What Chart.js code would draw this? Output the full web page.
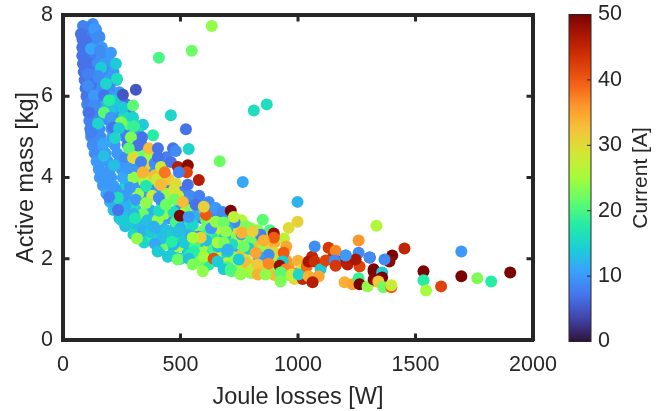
<!DOCTYPE html>
<html>
<head>
<meta charset="utf-8">
<script src="https://cdn.jsdelivr.net/npm/chart.js@4"></script>
<style>
    body { margin: 0; background: #fff; }
    canvas { position: absolute; left: 0; top: 0; }
</style>
</head>
<body>
<canvas id="scatterChart" width="669" height="411"></canvas>
<canvas id="colorbarChart" width="669" height="411"></canvas>
<script>
// values, one group per line, same order in all three lists
const jouleLosses = [
    127,110,140,90,155,83,105,130,
    82,110,140,165,82,105,135,165,190,
    85,115,145,175,200,88,120,150,185,215,
    92,125,155,195,228,96,130,165,200,240,
    100,135,170,210,250,
    103,140,180,225,270,
    108,145,190,235,280,
    112,150,195,245,295,
    116,155,205,255,310,
    120,160,210,265,325,
    126,170,220,275,335,
    135,180,230,285,350,
    143,190,240,300,360,420,
    153,200,250,305,365,420,
    157,205,255,315,375,440,
    170,215,265,325,390,450,
    185,230,280,340,400,470,
    200,245,295,355,420,490,550,
    215,260,310,370,430,500,560,620,
    240,285,335,395,450,520,590,660,
    265,310,360,420,480,550,620,690,760,
    300,350,400,460,520,590,660,730,810,
    345,400,450,520,590,660,740,820,
    410,470,530,600,670,740,810,880,
    500,560,630,700,770,850,920,
    620,690,760,830,910,720,800,
    300,360,250,320,380,440,300,340,430,470,520,570,640,700,760,800,
    480,540,600,670,740,450,510,640,720,380,430,490,560,620,690,760,
    650,580,700,760,820,860,880,830,900,960,1000,985,355,390,410,345,
    540,590,650,610,560,690,730,780,640,700,830,880,760,800,850,900,940,690,610,560,530,
    720,790,840,900,950,640,590,540,650,720,780,830,870,700,750,790,860,900,950,1000,1020,960,1060,1100,1150,1190,1020,
    330,370,350,390,440,300,400,450,480,510,540,580,450,490,620,650,680,720,340,320,280,260,300,240,215,200,
    215,240,265,250,280,300,320,340,360,375,405,420,440,465,500,515,540,470,575,610,630,660,225,260,195,285,310,180,230,265,
    132,85,153,76,98,119,157,204,225,162,98,149,106,230,183,106,132,310,255,174,
    191,196,132,255,298,174,298,111,204,247,302,149,213,238,383,336,289,221,119,174,
    319,280,366,404,468,480,174,298,332,404,417,459,276,217,153,340,433,489,531,527,
    408,459,523,548,633,535,416,812,867,667,765,998,493,
    497,608,714,578,531,472,353,408,353,476,510,565,234,234,196,306,403,408,552,650,
    493,387,586,552,391,463,557,658,315,403,446,488,535,599,552,595,641,658,684,715,
    416,599,438,535,684,701,
    727,850,960,998,1334,1258,1071,939,1130,1160,1203,1258,1305,1305,897,897,841,854,875,833,
    820,761,807,769,693,684,701,714,778,748,756,807,829,829,862,875,935,922,948,926,
    926,973,1003,1037,1045,1071,1096,1045,1088,1062,1118,1156,1160,1211,1262,1245,1322,1334,1198,1232,
    1258,1262,1296,1453,1401,1389,1368,1322,1358,1358,1322,1342,1203,1363,1397,1397,
    1534,1534,1545,1609,1695,1695,1763,1822,1903
];
const activeMass = [
    7.78,7.7,7.65,7.6,7.45,7.4,7.45,7.4,
    7.2,7.2,7.2,7.2,7.0,7.0,7.0,7.0,7.0,
    6.8,6.8,6.8,6.8,6.85,6.6,6.6,6.6,6.6,6.6,
    6.4,6.4,6.4,6.4,6.4,6.2,6.2,6.2,6.2,6.1,
    6.0,6.0,6.0,6.0,5.95,
    5.8,5.8,5.8,5.8,5.8,
    5.6,5.6,5.6,5.6,5.6,
    5.4,5.4,5.4,5.4,5.4,
    5.2,5.2,5.2,5.2,5.2,
    5.0,5.0,5.0,5.0,5.0,
    4.8,4.8,4.8,4.8,4.8,
    4.6,4.6,4.6,4.6,4.6,
    4.4,4.4,4.4,4.4,4.4,4.4,
    4.2,4.2,4.2,4.2,4.2,4.2,
    4.0,4.0,4.0,4.0,4.0,4.0,
    3.8,3.8,3.8,3.8,3.8,3.8,
    3.6,3.6,3.6,3.6,3.6,3.6,
    3.4,3.4,3.4,3.4,3.4,3.4,3.4,
    3.2,3.2,3.2,3.2,3.2,3.2,3.2,3.2,
    3.0,3.0,3.0,3.0,3.0,3.0,3.0,3.0,
    2.8,2.8,2.8,2.8,2.8,2.8,2.8,2.8,2.8,
    2.6,2.6,2.6,2.6,2.6,2.6,2.6,2.6,2.6,
    2.4,2.4,2.4,2.4,2.4,2.4,2.4,2.4,
    2.2,2.2,2.2,2.2,2.2,2.2,2.2,2.2,
    2.0,2.0,2.0,2.0,2.0,2.0,2.0,
    1.85,1.85,1.85,1.85,1.8,1.7,1.65,
    4.0,3.9,3.7,3.6,3.55,3.6,3.3,3.1,3.1,3.15,3.15,3.1,3.05,2.95,2.95,2.75,
    2.9,2.9,2.7,2.7,2.7,2.5,2.5,2.5,2.5,2.55,2.35,2.3,2.3,2.35,2.45,2.35,
    2.1,1.95,1.9,2.1,2.3,2.35,2.25,1.75,1.6,1.8,1.65,1.5,4.0,4.05,3.85,3.9,
    3.2,3.3,3.1,2.95,3.05,3.0,2.9,2.8,2.85,2.75,2.7,2.7,2.6,2.5,2.55,2.4,2.5,2.55,2.6,2.65,2.75,
    2.35,2.25,2.2,2.15,2.3,2.25,2.15,2.1,1.95,2.05,1.95,1.95,1.95,1.8,1.75,1.8,1.75,1.85,1.95,1.95,1.75,1.6,2.05,1.85,2.05,1.95,1.5,
    4.55,4.5,4.3,4.35,4.5,4.65,3.95,3.95,3.85,3.65,3.55,3.55,3.45,3.55,3.4,3.25,3.15,3.05,5.3,5.1,5.3,5.5,5.1,5.75,5.9,5.65,
    3.35,3.15,3.3,2.95,2.9,3.1,2.85,2.7,2.95,2.65,2.75,2.5,2.7,2.6,2.75,2.4,2.6,2.35,2.55,2.45,2.75,2.3,3.7,3.55,3.85,3.75,3.45,4.05,4.3,4.5,
    7.66,7.73,7.48,7.53,7.36,7.17,7.12,7.07,6.8,6.7,6.75,6.5,6.55,6.43,6.31,6.26,6.02,6.16,6.04,6.02,
    5.82,5.9,5.77,5.72,5.77,5.6,5.48,5.6,5.48,5.36,5.26,5.33,5.23,5.21,5.04,4.99,4.99,4.97,5.11,4.84,
    4.79,4.72,4.72,4.72,4.72,4.65,4.53,4.48,4.38,4.5,4.26,4.38,4.23,4.3,4.23,4.13,4.13,4.26,4.3,4.13,
    6.95,5.53,5.19,7.12,7.73,4.7,3.82,5.65,5.8,4.4,3.89,3.4,4.13,
    3.06,3.08,3.18,3.94,3.82,3.69,3.79,3.5,3.37,3.45,3.4,3.33,3.2,3.5,3.52,3.0,2.96,3.18,2.84,2.91,
    2.67,2.79,2.52,2.52,2.37,2.42,2.18,2.4,2.5,2.18,2.05,1.98,2.0,2.05,1.86,1.69,2.0,1.93,1.74,1.7,
    3.82,3.28,3.33,3.03,2.89,2.18,
    3.03,2.96,2.76,2.91,2.81,2.45,2.3,2.15,2.27,2.2,2.08,2.15,2.03,2.03,2.62,2.52,2.59,2.45,2.1,2.05,
    2.15,2.64,2.67,2.3,2.67,2.4,2.23,1.74,1.91,1.98,1.61,1.74,1.86,1.61,1.61,1.88,1.93,1.83,1.74,1.66,
    1.44,1.61,1.61,1.81,1.93,1.93,1.74,1.57,1.57,1.42,1.96,1.96,1.83,1.86,1.81,1.98,1.74,1.44,1.42,1.37,
    1.52,1.37,1.32,2.25,2.08,1.93,1.98,1.69,1.66,1.54,1.49,1.44,2.08,1.3,1.3,1.35,
    1.69,1.47,1.22,1.32,2.18,1.57,1.52,1.44,1.66
];
const currentA = [
    9,8,9,7,10,7,8,9,
    7,7,9,10,7,7,8,9,9,
    7,7,9,10,10,7,7,8,9,10,
    7,7,9,10,12,7,7,9,9,10,
    7,8,9,10,7,
    8,8,10,9,7,
    8,8,9,10,8,
    8,9,9,7,9,
    8,9,10,7,7,
    9,9,10,8,7,
    9,10,10,7,7,
    9,10,10,8,9,
    10,10,10,9,8,7,
    10,10,10,10,10,9,
    10,10,11,10,10,8,
    10,11,12,10,9,7,
    11,12,12,10,10,7,
    12,13,12,11,10,8,7,
    13,13,13,12,10,9,7,7,
    13,14,13,12,10,10,8,7,
    13,14,14,12,11,10,9,7,8,
    15,15,13,12,11,10,10,9,8,
    15,14,13,12,13,11,10,9,
    14,14,13,14,12,11,15,10,
    16,15,14,15,16,20,30,
    18,19,22,24,33,20,24,
    24,22,15,24,28,24,16,22,24,16,27,30,24,22,26,24,
    20,16,22,27,30,20,16,18,24,18,22,25,20,27,24,27,
    27,22,28,33,33,34,31,30,33,36,38,30,30,33,29,26,
    23,10,9,22,12,25,9,23,27,12,24,20,10,22,30,34,27,14,20,25,18,
    16,14,24,30,35,20,24,18,22,24,27,33,12,20,25,27,33,24,36,34,27,24,45,42,44,47,45,
    22,25,30,9,8,24,28,32,30,8,9,8,24,28,9,10,9,10,14,16,20,16,10,12,14,14,
    12,13,12,14,14,12,13,12,13,14,12,13,13,14,12,14,12,12,10,13,10,13,10,10,10,10,10,10,10,9,
    10,8,9,7,7,11,9,10,14,14,7,9,8,16,15,9,10,5,5,7,
    13,18,9,14,21,21,15,7,10,23,19,15,7,14,18,7,23,15,8,11,
    7,21,33,7,7,9,13,30,8,7,28,7,10,13,10,34,38,46,49,42,
    20,15,7,22,24,15,33,16,16,22,11,12,8,
    50,40,50,46,7,29,17,9,24,22,33,7,7,16,8,17,24,16,15,24,
    13,12,31,25,11,18,18,25,24,14,14,22,13,25,23,24,41,14,14,21,
    33,31,22,10,22,14,
    27,21,30,31,26,36,9,40,43,37,9,9,50,9,48,40,8,34,9,10,
    35,34,31,22,24,23,12,20,33,14,24,26,32,34,24,37,14,48,37,21,
    23,28,15,39,47,44,14,34,35,46,42,9,43,46,42,47,50,34,34,35,
    19,50,24,45,50,49,9,50,14,50,49,32,10,22,40,28,
    50,18,25,42,10,50,23,18,50
];
const lossTicks = [0, 500, 1000, 1500, 2000];
const massTicks = [0, 2, 4, 6, 8];
const currentTicks = [0, 10, 20, 30, 40, 50];

// turbo colormap
const turboColors = ['#30123b', '#4145ab', '#4675ed', '#39a2fc', '#1bcfd4', '#24eca6', '#61fc6c', '#a4fc3b',
    '#d1e834', '#f3c63a', '#fe9b2d', '#f36315', '#d93806', '#b11901', '#7a0403'];

const darkText = '#262626';
const fontName = '"Liberation Sans", Arial, sans-serif';

function hexToRgb(hex) {
    return [1, 3, 5].map(i => parseInt(hex.substr(i, 2), 16));
}

function turbo(value) {
    const t = Math.max(0, Math.min(1, value / 50)) * (turboColors.length - 1);
    const i = Math.min(Math.floor(t), turboColors.length - 2);
    const a = hexToRgb(turboColors[i]);
    const b = hexToRgb(turboColors[i + 1]);
    const rgb = a.map((v, k) => Math.round(v + (b[k] - v) * (t - i)));
    return `rgb(${rgb[0]}, ${rgb[1]}, ${rgb[2]})`;
}

function boxAxis(position, min, max, ticks, extra) {
    return Object.assign({
        type: 'linear',
        position: position,
        min: min,
        max: max,
        afterBuildTicks: axis => { axis.ticks = ticks.map(v => ({ value: v })); },
        border: { display: true, color: darkText, width: 4 },
        grid: { drawOnChartArea: false, drawTicks: false },
        ticks: { display: false }
    }, extra);
}

// the layout pushes the plot in for labels that stick out past the ends of an axis, we don't want that
function fixAxisSize(axis, size) {
    if (axis.isHorizontal()) {
        axis.height = size;
    } else {
        axis.width = size;
    }
    axis.paddingTop = 0;
    axis.paddingBottom = 0;
    axis.paddingLeft = 0;
    axis.paddingRight = 0;
}

// inward tick marks on all four sides of the box
const insideTicks = {
    id: 'insideTicks',
    afterDraw(chart) {
        const { ctx, chartArea, scales } = chart;
        ctx.save();
        ctx.strokeStyle = darkText;
        ctx.lineWidth = 3;
        ctx.beginPath();
        lossTicks.forEach(v => {
            const px = scales.x.getPixelForValue(v);
            ctx.moveTo(px, chartArea.bottom);
            ctx.lineTo(px, chartArea.bottom - 6.5);
            ctx.moveTo(px, chartArea.top);
            ctx.lineTo(px, chartArea.top + 6.5);
        });
        massTicks.forEach(v => {
            const py = scales.y.getPixelForValue(v);
            ctx.moveTo(chartArea.left, py);
            ctx.lineTo(chartArea.left + 6.5, py);
            ctx.moveTo(chartArea.right, py);
            ctx.lineTo(chartArea.right - 6.5, py);
        });
        ctx.stroke();
        ctx.restore();
    }
};

const scatterPoints = jouleLosses.map((x, i) => ({ x: x, y: activeMass[i] }));

new Chart(document.getElementById('scatterChart'), {
    type: 'scatter',
    data: {
        datasets: [{
            data: scatterPoints,
            pointRadius: 6,
            pointBorderWidth: 0,
            backgroundColor: ctx => turbo(currentA[ctx.dataIndex])
        }]
    },
    plugins: [insideTicks],
    options: {
        responsive: false,
        animation: false,
        layout: { padding: { left: 0, right: 136, top: 15, bottom: 0 } },
        plugins: { legend: { display: false }, tooltip: { enabled: false } },
        scales: {
            x: boxAxis('bottom', 0, 2000, lossTicks, {
                afterFit: axis => fixAxisSize(axis, 71),
                ticks: { display: true, padding: 12, color: darkText, maxRotation: 0, callback: v => String(v), font: { family: fontName, size: 21.5 } },
                title: { display: true, text: 'Joule losses [W]', color: darkText, padding: { top: 0, bottom: -1 }, font: { family: fontName, size: 23.5 } }
            }),
            y: boxAxis('left', 0, 8, massTicks, {
                afterFit: axis => fixAxisSize(axis, 63),
                ticks: { display: true, padding: 10, color: darkText, callback: v => String(v), font: { family: fontName, size: 21.5 } },
                title: { display: true, text: 'Active mass [kg]', color: darkText, padding: { top: 12, bottom: 0 }, font: { family: fontName, size: 23.5 } }
            }),
            xTop: boxAxis('top', 0, 2000, lossTicks, { afterFit: axis => fixAxisSize(axis, 0) }),
            yRight: boxAxis('right', 0, 8, massTicks, { afterFit: axis => fixAxisSize(axis, 0) })
        }
    }
});

// colorbar label reads bottom to top, which a right hand axis title does not do
const colorbarLabel = {
    id: 'colorbarLabel',
    afterDraw(chart) {
        const { ctx, chartArea, scales } = chart;
        ctx.save();
        ctx.strokeStyle = darkText;
        ctx.lineWidth = 1;
        ctx.strokeRect(chartArea.left, chartArea.top, chartArea.right - chartArea.left, chartArea.bottom - chartArea.top);
        ctx.beginPath();
        currentTicks.forEach(v => {
            const py = scales.y.getPixelForValue(v);
            ctx.moveTo(chartArea.right, py);
            ctx.lineTo(chartArea.right - 4, py);
        });
        ctx.stroke();
        ctx.translate(641, (chartArea.top + chartArea.bottom) / 2);
        ctx.rotate(-Math.PI / 2);
        ctx.fillStyle = darkText;
        ctx.font = '21px ' + fontName;
        ctx.textAlign = 'center';
        ctx.textBaseline = 'middle';
        ctx.fillText('Current [A]', 0, 0);
        ctx.restore();
    }
};

new Chart(document.getElementById('colorbarChart'), {
    type: 'bar',
    data: {
        labels: [''],
        datasets: [{
            data: [[currentTicks[0], currentTicks[currentTicks.length - 1]]],
            barPercentage: 1,
            categoryPercentage: 1,
            backgroundColor: ctx => {
                const area = ctx.chart.chartArea;
                if (!area) return turboColors[0];
                const gradient = ctx.chart.ctx.createLinearGradient(0, area.bottom, 0, area.top);
                for (let v = 0; v <= 50; v += 1) gradient.addColorStop(v / 50, turbo(v));
                return gradient;
            }
        }]
    },
    plugins: [colorbarLabel],
    options: {
        responsive: false,
        animation: false,
        layout: { padding: { left: 569, right: 0, top: 14.5, bottom: 69.5 } },
        plugins: { legend: { display: false }, tooltip: { enabled: false } },
        scales: {
            x: { display: false },
            y: {
                position: 'right',
                min: 0,
                max: 50,
                afterBuildTicks: axis => { axis.ticks = currentTicks.map(v => ({ value: v })); },
                afterFit: axis => fixAxisSize(axis, 78),
                border: { display: false },
                grid: { display: false, drawTicks: false },
                ticks: { padding: 7, color: darkText, callback: v => String(v), font: { family: fontName, size: 21.5 } }
            }
        }
    }
});
</script>
</body>
</html>
